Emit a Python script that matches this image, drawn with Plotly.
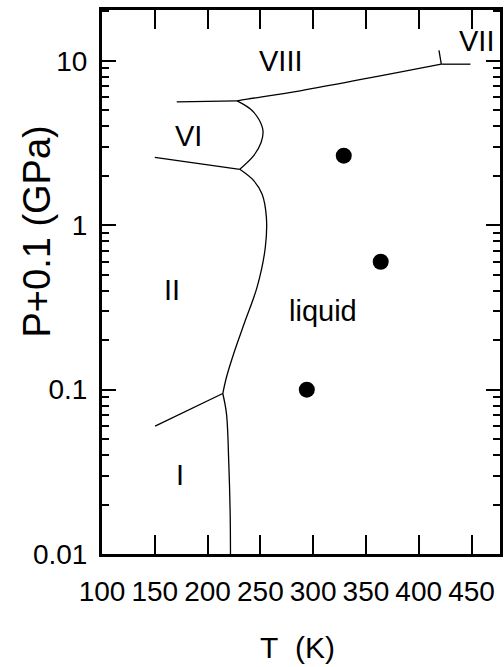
import math
import plotly.graph_objects as go

# Phase boundaries: temperature (K) and pressure P+0.1 (GPa)
i_ii_T = [150.3, 214.4]
i_ii_P = [0.060, 0.0947]

i_liq_T = [214.4, 217.9, 220.1, 221.4, 221.7]
i_liq_P = [0.0947, 0.0714, 0.0356, 0.0177, 0.01]

ii_liq_T = [214.4, 217.9, 224.8, 235.8, 246.9, 254.7, 255.7, 251.6, 243.7, 230.5]
ii_liq_P = [0.0947, 0.119, 0.166, 0.264, 0.42, 0.735, 1.12, 1.55, 1.87, 2.19]

ii_vi_T = [150.0, 230.5]
ii_vi_P = [2.59, 2.19]

vi_liq_T = [230.5, 243.7, 250.7, 252.5, 248.4, 240.6, 228.0]
vi_liq_P = [2.19, 2.65, 3.19, 3.76, 4.43, 5.09, 5.71]

vi_viii_T = [170.8, 228.0]
vi_viii_P = [5.64, 5.71]

viii_liq_T = [228.0, 237.5, 287.7, 421.4]
viii_liq_P = [5.71, 5.85, 6.58, 9.55]

vii_liq_T = [421.4, 449.0]
vii_liq_P = [9.55, 9.55]

viii_vii_T = [421.4, 419.2]
viii_vii_P = [9.55, 11.6]

# Measured state points
pt_T = [329.0, 364.0, 294.0]
pt_P = [2.65, 0.60, 0.10]

# Phase labels
lab_text = ["VIII", "VII", "VI", "II", "liquid", "I"]
lab_T = [269.8, 454.4, 182.4, 166.7, 309.4, 173.6]
lab_P = [10.0, 13.2, 3.51, 0.401, 0.303, 0.0302]

# Axis ranges and ticks
x_min, x_max = 100, 477
y_min, y_max = 0.01, 20.4
x_ticks = [100, 150, 200, 250, 300, 350, 400, 450]
y_ticks = [0.01, 0.1, 1, 10]
y_tick_text = ["0.01", "0.1", "1", "10"]

FONT = "Liberation Sans, Arial, sans-serif"

fig = go.Figure()

boundaries = [
    (i_ii_T, i_ii_P, "linear"),
    (i_liq_T, i_liq_P, "spline"),
    (ii_liq_T, ii_liq_P, "spline"),
    (ii_vi_T, ii_vi_P, "linear"),
    (vi_liq_T, vi_liq_P, "spline"),
    (vi_viii_T, vi_viii_P, "linear"),
    (viii_liq_T, viii_liq_P, "spline"),
    (vii_liq_T, vii_liq_P, "linear"),
    (viii_vii_T, viii_vii_P, "linear"),
]
for t, p, shape in boundaries:
    fig.add_trace(go.Scatter(
        x=t, y=p, mode="lines",
        line=dict(color="black", width=1.3, shape=shape),
        hoverinfo="skip", showlegend=False,
    ))

fig.add_trace(go.Scatter(
    x=pt_T, y=pt_P, mode="markers",
    marker=dict(color="black", size=16, symbol="circle"),
    showlegend=False,
))

# Phase names; annotation positions on a log axis are given as log10
for txt, t, p in zip(lab_text, lab_T, lab_P):
    fig.add_annotation(
        x=t, y=math.log10(p), text=txt, showarrow=False,
        xanchor="center", yanchor="middle",
        font=dict(family=FONT, size=29, color="black"),
    )

# Axis titles
fig.add_annotation(
    xref="paper", yref="paper", x=0.491, y=-0.171,
    text="T\u00a0 (K)", showarrow=False, xanchor="center", yanchor="middle",
    font=dict(family=FONT, size=30, color="black"),
)
fig.add_annotation(
    xref="paper", yref="paper", x=-0.163, y=0.593,
    text="P+0.1 (GPa)", showarrow=False, textangle=-90,
    xanchor="center", yanchor="middle",
    font=dict(family=FONT, size=38, color="black"),
)

fig.update_layout(
    width=504, height=667,
    margin=dict(l=102, r=4, t=10, b=113),
    paper_bgcolor="white", plot_bgcolor="white",
    showlegend=False,
)
# Inward ticks repeated on the top and right edges of the frame
fig.update_xaxes(
    range=[x_min, x_max], tickmode="array", tickvals=x_ticks, tickangle=0,
    ticks="inside", ticklen=19, tickwidth=2, tickcolor="black",
    showline=True, linewidth=3, linecolor="black", mirror="allticks",
    showgrid=False, zeroline=False, automargin=False,
    tickfont=dict(family=FONT, size=28, color="black"),
    ticklabelstandoff=10,
)
fig.update_yaxes(
    type="log", range=[math.log10(y_min), math.log10(y_max)],
    tickmode="array", tickvals=y_ticks, ticktext=y_tick_text,
    ticks="inside", ticklen=14, tickwidth=2, tickcolor="black",
    minor=dict(ticks="inside", ticklen=7, tickwidth=2, tickcolor="black",
               dtick="D1", showgrid=False),
    showline=True, linewidth=3, linecolor="black", mirror="allticks",
    showgrid=False, zeroline=False, automargin=False,
    tickfont=dict(family=FONT, size=28, color="black"),
    ticklabelstandoff=6,
)

fig.write_html("out.html")
